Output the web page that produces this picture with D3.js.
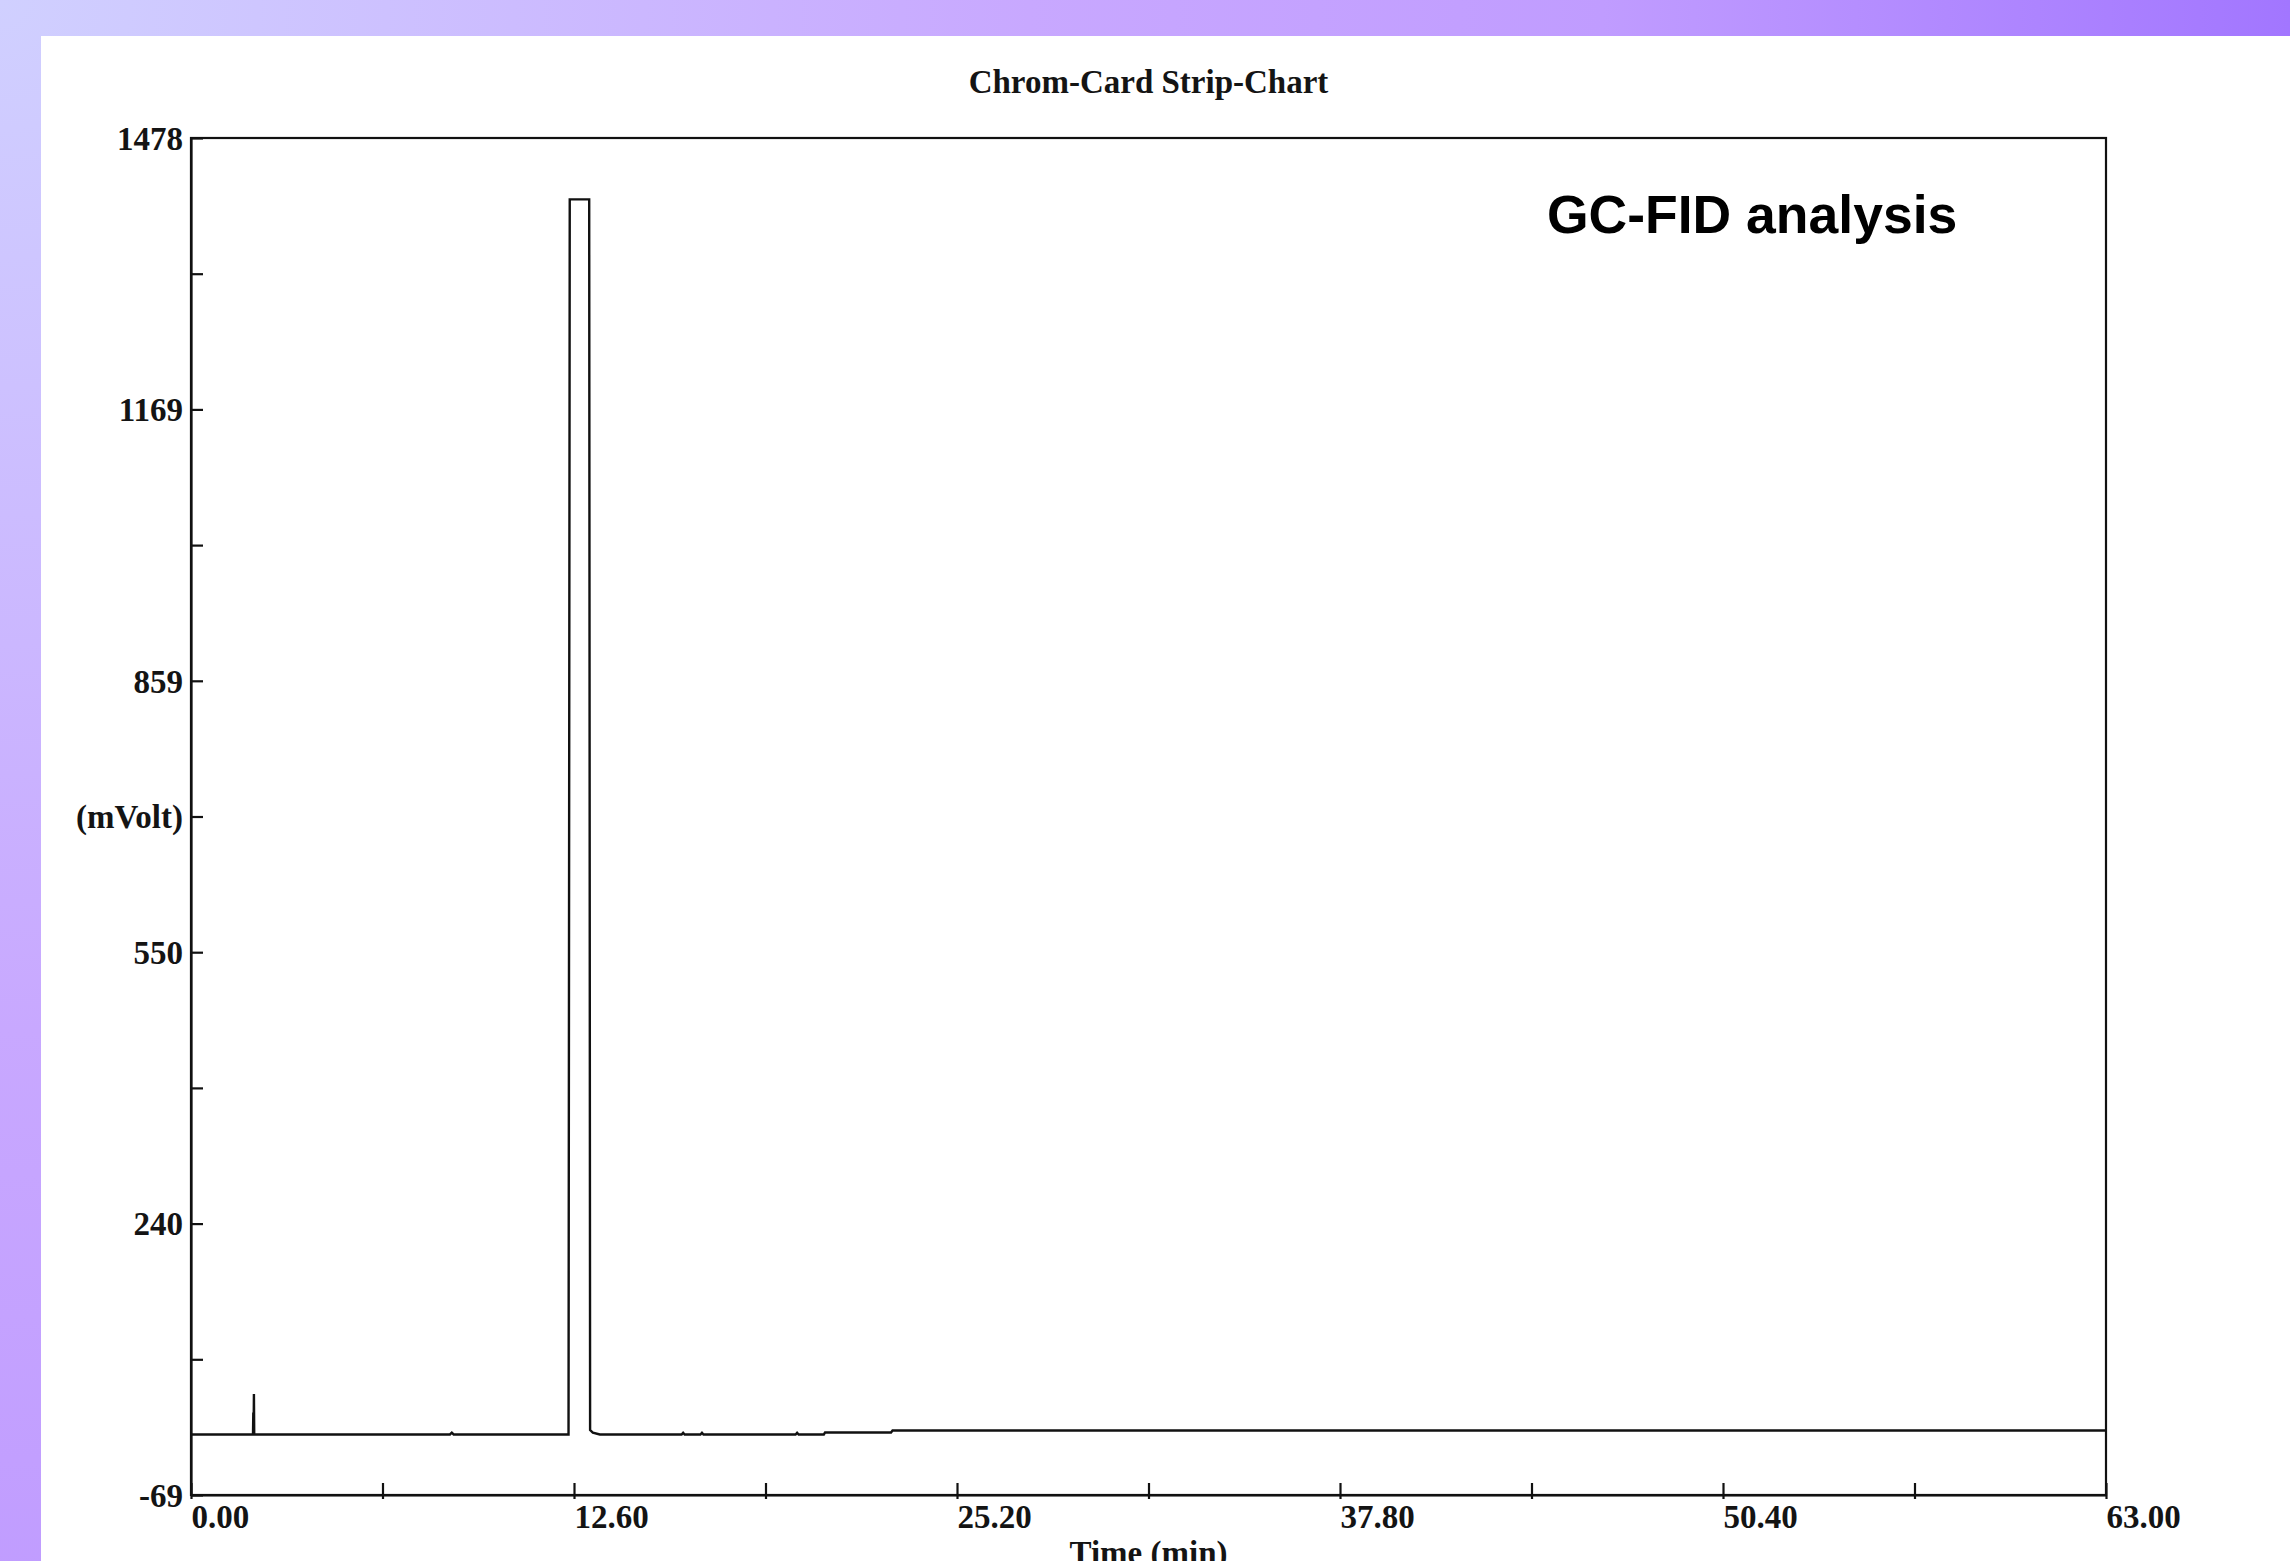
<!DOCTYPE html>
<html>
<head>
<meta charset="utf-8">
<script src="https://cdn.jsdelivr.net/npm/d3@7"></script>
<style>
  body { margin: 0; background: #fff; }
  .serif { font-family: "Liberation Serif", "Times New Roman", serif; font-weight: bold; fill: #141414; }
  .axis text { font-family: "Liberation Serif", "Times New Roman", serif; font-weight: bold; font-size: 33px; fill: #141414; }
  .axis line, .axis path { stroke: #111; stroke-width: 2.2; }
</style>
</head>
<body>
<div id="vis"></div>
<script>
// retention time (min) and detector signal (mVolt)
var retentionTime = [0, 2.02, 2.04, 2.05, 2.06, 2.07, 2.08, 2.10, 8.52, 8.58, 8.64,
                     12.42, 12.46, 13.10, 13.13, 13.22, 13.45, 16.14, 16.19, 16.24,
                     16.76, 16.81, 16.86, 19.89, 19.94, 19.99, 20.82, 20.86, 23.03, 23.08, 63];
var signal = [0, 0, 0, 25, 3, 46, 0, 0, 0, 2, 0,
              0, 1408, 1408, 5, 2, 0, 0, 2, 0,
              0, 2, 0, 0, 2, 0, 0, 2.3, 2.3, 4.6, 4.6];

var yTicks = [-69, 85.7, 240.4, 395.1, 549.8, 704.5, 859.2, 1013.9, 1168.6, 1323.3, 1478];
var yTickLabels = ['-69', '', '240', '', '550', '(mVolt)', '859', '', '1169', '', '1478'];
var xTicks = [0, 6.3, 12.6, 18.9, 25.2, 31.5, 37.8, 44.1, 50.4, 56.7, 63];
var xTickLabels = ['0.00', '', '12.60', '', '25.20', '', '37.80', '', '50.40', '', '63.00'];

var chartTitle = 'Chrom-Card Strip-Chart';
var xTitle = 'Time (min)';
var note = 'GC-FID analysis';

var width = 2290, height = 1561;
var margin = { left: 191, top: 138, right: 184, bottom: 66 };
var drawWidth = width - margin.left - margin.right,
    drawHeight = height - margin.top - margin.bottom;

var svg = d3.select('#vis').append('svg')
            .attr('width', width)
            .attr('height', height);

// slide background
var defs = svg.append('defs');
var grad = defs.append('radialGradient')
               .attr('id', 'bg')
               .attr('gradientUnits', 'userSpaceOnUse')
               .attr('cx', 0).attr('cy', 0).attr('r', 2290);
grad.append('stop').attr('offset', 0).attr('stop-color', '#d0d0ff');
grad.append('stop').attr('offset', 0.45).attr('stop-color', '#c8a8ff');
grad.append('stop').attr('offset', 0.7).attr('stop-color', '#c09cff');
grad.append('stop').attr('offset', 1).attr('stop-color', '#a276ff');

svg.append('rect').attr('width', width).attr('height', height).attr('fill', 'url(#bg)');
svg.append('rect').attr('x', 41).attr('y', 36)
   .attr('width', width - 41).attr('height', height - 36).attr('fill', '#fff');

var xScale = d3.scaleLinear().domain([0, 63]).range([0, drawWidth]);
var yScale = d3.scaleLinear().domain([-69, 1478]).range([drawHeight, 0]);

var g = svg.append('g')
           .attr('transform', `translate(${margin.left}, ${margin.top})`);

// frame
g.append('rect')
 .attr('width', drawWidth).attr('height', drawHeight)
 .attr('fill', 'none').attr('stroke', '#111').attr('stroke-width', 2.2);

var yAxis = d3.axisLeft(yScale)
              .tickValues(yTicks)
              .tickSizeInner(-12)
              .tickSizeOuter(0)
              .tickPadding(8)
              .tickFormat((d, i) => yTickLabels[i]);

var xAxis = d3.axisBottom(xScale)
              .tickValues(xTicks)
              .tickSizeInner(-12)
              .tickSizeOuter(0)
              .tickFormat((d, i) => xTickLabels[i]);

g.append('g').attr('class', 'axis').call(yAxis)
 .selectAll('text').attr('dy', '0.34em');

var xg = g.append('g').attr('class', 'axis')
          .attr('transform', `translate(0, ${drawHeight})`)
          .call(xAxis);
xg.selectAll('.tick line').attr('y1', 4);
xg.selectAll('text')
  .attr('text-anchor', 'start')
  .attr('y', 33)
  .attr('dy', 0);

// trace
var points = retentionTime.map((t, i) => [t, signal[i]]);
var line = d3.line()
             .x((d) => xScale(d[0]))
             .y((d) => yScale(d[1]));

g.append('path')
 .datum(points)
 .attr('d', line)
 .attr('fill', 'none')
 .attr('stroke', '#111')
 .attr('stroke-width', 2.4)
 .attr('stroke-linejoin', 'miter');

// titles
svg.append('text')
   .attr('class', 'serif')
   .attr('x', margin.left + drawWidth / 2)
   .attr('y', 93)
   .attr('text-anchor', 'middle')
   .style('font-size', '33px')
   .text(chartTitle);

svg.append('text')
   .attr('class', 'serif')
   .attr('x', margin.left + drawWidth / 2)
   .attr('y', 1564)
   .attr('text-anchor', 'middle')
   .style('font-size', '33px')
   .text(xTitle);

svg.append('text')
   .attr('x', 1547)
   .attr('y', 233)
   .style('font-family', '"Liberation Sans", Arial, sans-serif')
   .style('font-weight', 'bold')
   .style('font-size', '53.5px')
   .style('fill', '#000')
   .text(note);
</script>
</body>
</html>
